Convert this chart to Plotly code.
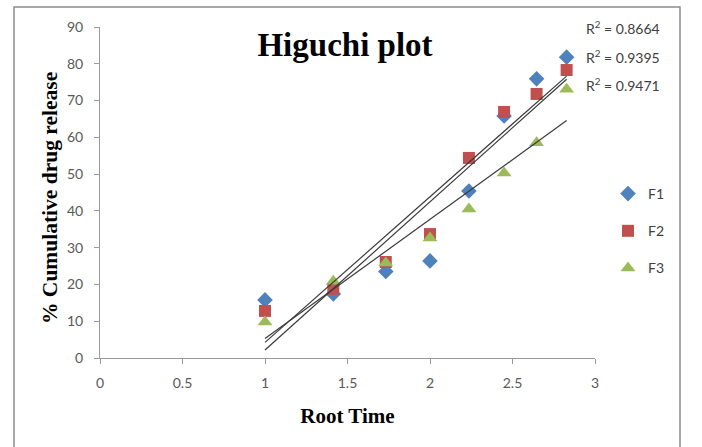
import numpy as np
import plotly.graph_objects as go

root_time = [1.0, 1.414, 1.732, 2.0, 2.236, 2.449, 2.646, 2.828]
f1 = [15.8, 17.4, 23.5, 26.4, 45.4, 65.8, 75.9, 81.8]
f2 = [12.8, 18.8, 26.1, 33.7, 54.4, 66.9, 71.8, 78.3]
f3 = [9.8, 20.9, 25.8, 32.6, 40.5, 50.3, 58.5, 73.1]
series_names = ["F1", "F2", "F3"]
r2_labels = ["R<sup>2</sup> = 0.8664", "R<sup>2</sup> = 0.9395", "R<sup>2</sup> = 0.9471"]
x_ticks = [0, 0.5, 1, 1.5, 2, 2.5, 3]
y_ticks = [0, 10, 20, 30, 40, 50, 60, 70, 80, 90]

colors = ["#4F81BD", "#C0504D", "#9BBB59"]
symbols = ["diamond", "square", "triangle-up"]
sizes = [12, 12, 13]

fig = go.Figure()
x = np.array(root_time)
for i, (name, ys) in enumerate(zip(series_names, [f1, f2, f3])):
    fig.add_trace(go.Scatter(
        x=root_time, y=ys, mode="markers", name=name,
        marker=dict(symbol=symbols[i], color=colors[i], size=sizes[i]),
        legendgroup=name,
    ))
for i, ys in enumerate([f1, f2, f3]):
    m, b = np.polyfit(x, np.array(ys), 1)
    xs = [x.min(), x.max()]
    fig.add_trace(go.Scatter(
        x=xs, y=[m * v + b for v in xs], mode="lines",
        line=dict(color="#3a3a3a", width=1.2), showlegend=False, hoverinfo="skip",
    ))

tick_font = dict(family="Lato, Liberation Sans, sans-serif", size=14, color="#595959")
serif_bold = "Liberation Serif, Times New Roman, serif"

fig.update_layout(
    width=702, height=447,
    margin=dict(l=100, r=107, t=27, b=89),
    paper_bgcolor="white", plot_bgcolor="white",
    title=dict(text="<b>Higuchi plot</b>", x=(345) / 702, xanchor="center",
               y=1 - 44 / 447, yanchor="middle",
               font=dict(family=serif_bold, size=33, color="black")),
    xaxis=dict(range=[0, 3], tickvals=x_ticks, ticktext=[str(t) for t in x_ticks],
               showgrid=False, zeroline=False, showline=True, linecolor="#999999",
               linewidth=1, ticks="outside", ticklen=5, tickcolor="#999999",
               tickfont=tick_font, ticklabelstandoff=7,
               title=dict(text="<b>Root Time</b>", standoff=18,
                          font=dict(family=serif_bold, size=21, color="black"))),
    yaxis=dict(range=[0, 90], tickvals=y_ticks, showgrid=False, zeroline=False,
               showline=True, linecolor="#999999", linewidth=1, ticks="outside",
               ticklen=5, tickcolor="#999999", tickfont=tick_font,
               ticklabelstandoff=8),
    legend=dict(x=(608 - 100) / 495, y=(358 - 178) / 331, xanchor="left", yanchor="top",
                font=dict(family="Lato, Liberation Sans, sans-serif", size=14, color="#404040"),
                tracegroupgap=16, traceorder="grouped", bgcolor="rgba(0,0,0,0)"),
    showlegend=True,
)

# y-axis title (as annotation to match its off-centre placement)
fig.add_annotation(
    text="<b>% Cumulative drug release</b>", xref="paper", yref="paper",
    x=(50 - 100) / 495, y=(358 - 198) / 331, xanchor="center", yanchor="middle",
    textangle=-90, showarrow=False,
    font=dict(family=serif_bold, size=21.5, color="black"),
)

for i, t in enumerate(r2_labels):
    fig.add_annotation(
        text=t, xref="paper", yref="paper",
        x=(584 - 100) / 495, y=(358 - (28 + 28 * i)) / 331,
        xanchor="left", yanchor="middle", showarrow=False,
        font=dict(family="Lato, Liberation Sans, sans-serif", size=14, color="#404040"),
    )

# outer chart border (left, top, right)
bx0 = (14 - 100) / 495
bx1 = (680 - 100) / 495
by_top = (358 - 7) / 331
by_bot = (358 - 460) / 331
fig.add_shape(type="path", xref="paper", yref="paper",
              path=f"M {bx0} {by_bot} L {bx0} {by_top} L {bx1} {by_top} L {bx1} {by_bot}",
              line=dict(color="#8c8c8c", width=1.5))

fig.write_html("out.html")
